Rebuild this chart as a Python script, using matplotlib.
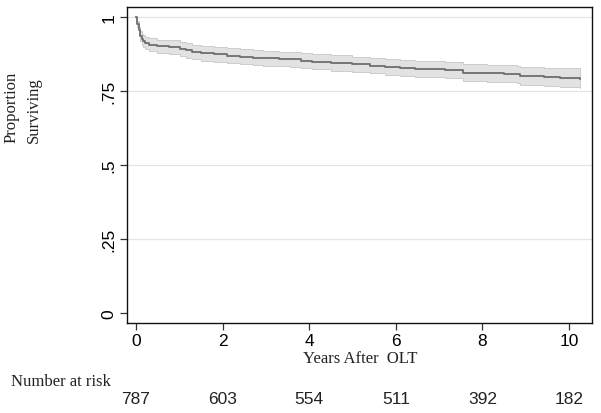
import matplotlib
matplotlib.use("Agg")
import matplotlib.pyplot as plt
import matplotlib.transforms as mtransforms

# Kaplan-Meier estimate
times = [0, 0.03, 0.06, 0.09, 0.13, 0.17, 0.21, 0.3, 0.48, 0.75, 1.02, 1.15,
         1.29, 1.5, 1.79, 2.1, 2.4, 2.7, 2.94, 3.3, 3.56, 3.8, 4.06, 4.5,
         4.98, 5.4, 5.75, 6.1, 6.44, 6.8, 7.14, 7.56, 8.1, 8.5, 8.79, 8.87,
         9.41, 9.8, 10.25]
surv = [1.0, 0.975, 0.955, 0.935, 0.925, 0.918, 0.912, 0.907, 0.902, 0.898,
        0.893, 0.887, 0.881, 0.878, 0.874, 0.870, 0.866, 0.863, 0.860, 0.858,
        0.857, 0.853, 0.849, 0.845, 0.840, 0.836, 0.832, 0.829, 0.825, 0.823,
        0.821, 0.812, 0.810, 0.808, 0.806, 0.800, 0.797, 0.795, 0.792]
ci_low = [1.0, 0.965, 0.942, 0.918, 0.906, 0.898, 0.891, 0.885, 0.880, 0.875,
          0.869, 0.863, 0.857, 0.853, 0.849, 0.845, 0.841, 0.838, 0.835, 0.833,
          0.832, 0.827, 0.823, 0.819, 0.814, 0.810, 0.805, 0.802, 0.798, 0.796,
          0.793, 0.784, 0.781, 0.779, 0.776, 0.770, 0.766, 0.763, 0.759]
ci_high = [1.0, 0.985, 0.968, 0.952, 0.944, 0.938, 0.933, 0.929, 0.924, 0.921,
           0.917, 0.911, 0.905, 0.903, 0.899, 0.895, 0.891, 0.888, 0.885, 0.883,
           0.882, 0.879, 0.875, 0.871, 0.866, 0.862, 0.859, 0.856, 0.852, 0.850,
           0.849, 0.840, 0.839, 0.837, 0.836, 0.830, 0.828, 0.827, 0.825]

x_ticks = [0, 2, 4, 6, 8, 10]
y_ticks = [0, 0.25, 0.5, 0.75, 1]
y_tick_labels = ["0", ".25", ".5", ".75", "1"]
grid_levels = [0.25, 0.5, 0.75, 1]
at_risk = [787, 603, 554, 511, 392, 182]

W, H = 601, 414
fig = plt.figure(figsize=(W / 100, H / 100), dpi=100)
ax = fig.add_axes([126.5 / W, 1 - 324 / H, (592 - 126.5) / W, (324 - 8) / H])

sans = "Liberation Sans"
serif = "Liberation Serif"

for g in grid_levels:
    ax.axhline(g, color="#e4e4e4", lw=0.9, zorder=0)

ax.fill_between(times, ci_low, ci_high, step="post", facecolor="#e2e2e2",
                edgecolor="#cccccc", lw=0.7, zorder=1)
ax.step(times, surv, where="post", color="#6e6e6e", lw=1.3, zorder=2)

ax.set_xlim(-0.22, 10.53)
ax.set_ylim(-0.034, 1.034)
ax.set_xticks(x_ticks)
ax.set_xticklabels([str(t) for t in x_ticks], fontfamily=sans, fontsize=12.5)
ax.set_yticks(y_ticks)
ax.set_yticklabels(y_tick_labels, fontfamily=sans, fontsize=12.5,
                   rotation=90, va="center")
ax.tick_params(direction="out", length=5, width=0.9, color="#333333", pad=2)
for s in ax.spines.values():
    s.set_linewidth(1.0)
    s.set_color("#111111")

def fy(py):
    return 1 - py / H

fig.text(12 / W, fy(143), "Proportion", rotation=90, ha="center", va="bottom",
         fontfamily=serif, fontsize=12, color="#222222")
fig.text(34 / W, fy(143), "Surviving", rotation=90, ha="center", va="bottom",
         fontfamily=serif, fontsize=12, color="#222222")
fig.text(360 / W, fy(359), "Years After  OLT", ha="center", va="center",
         fontfamily=serif, fontsize=12, color="#222222")
fig.text(11 / W, fy(382), "Number at risk", ha="left", va="center",
         fontfamily=serif, fontsize=12, color="#222222")

trans = mtransforms.blended_transform_factory(ax.transData, fig.transFigure)
for t, n in zip(x_ticks, at_risk):
    ax.text(t, fy(400), str(n), transform=trans, ha="center", va="center",
            fontfamily=sans, fontsize=12.5, color="#222222", clip_on=False)

fig.savefig("out.png", dpi=100)
